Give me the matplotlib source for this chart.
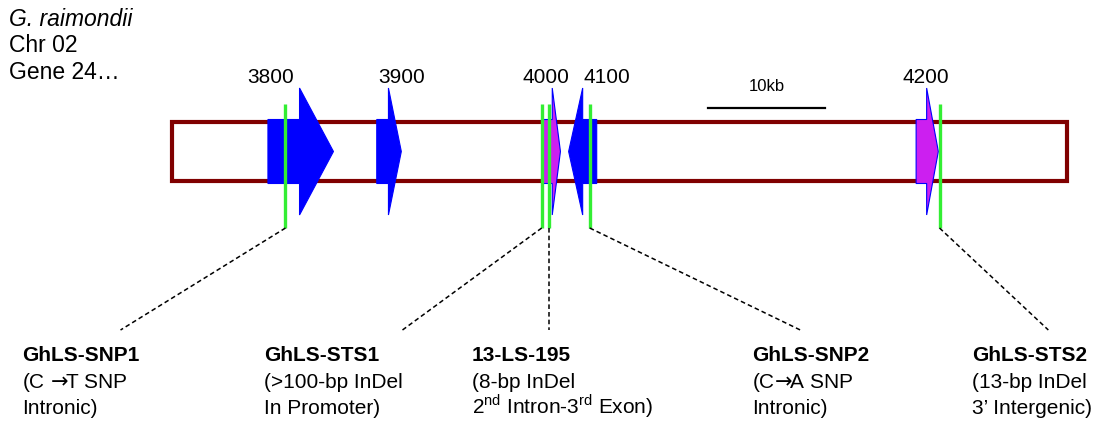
import matplotlib
matplotlib.use('Agg')
import matplotlib.pyplot as plt
from matplotlib.patches import Polygon, Rectangle

plt.rcParams['font.family'] = ['Liberation Sans', 'DejaVu Sans']

# positions along the segment in kb
segment_len = 76.5
gene_ids = ['3800', '3900', '4000', '4100', '4200']
gene_start = [8.2, 17.5, 31.7, 36.3, 63.6]   # back of the body
gene_head = [10.9, 18.5, 32.5, 35.1, 64.5]   # where the arrow head begins
gene_tip = [13.8, 19.6, 33.2, 33.9, 65.5]
gene_colors = ['#0000ff', '#0000ff', '#cc1ff0', '#0000ff', '#cc1ff0']
id_pos = [8.4, 19.6, 32.0, 37.2, 64.4]

marker_pos = [9.7, 31.6, 32.2, 35.7, 65.6]
label_anchor = [-4.4, 19.7, 32.2, 53.7, 74.9]
label_x = [-12.8, 7.9, 25.6, 49.6, 68.4]
marker_names = ['GhLS-SNP1', 'GhLS-STS1', '13-LS-195', 'GhLS-SNP2', 'GhLS-STS2']
marker_notes = [
    ['(C $\\!\\rightarrow\\!\\!$T SNP', 'Intronic)'],
    ['(>100-bp InDel', 'In Promoter)'],
    ['(8-bp InDel', '2$^{\\mathregular{nd}}$ Intron-3$^{\\mathregular{rd}}$ Exon)'],
    ['(C$\\!\\rightarrow\\!\\!$A SNP', 'Intronic)'],
    ['(13-bp InDel', '3\u2019 Intergenic)'],
]
scale_start, scale_kb = 45.8, 10
header = ['G. raimondii', 'Chr 02', 'Gene 24\u2026']

px_per_kb = 11.7
x0 = 172 / px_per_kb

fig = plt.figure(figsize=(11.09, 4.23), dpi=100)
ax = fig.add_axes([0, 0, 1, 1])
ax.set_xlim(-x0, 1109 / px_per_kb - x0)
ax.set_ylim(423, 0)
ax.axis('off')

yc = 151.5
body_h = 32
head_h = 63.5

# chromosome segment
ax.add_patch(Rectangle((0, 122), segment_len, 59.5, fill=False,
                       edgecolor='#800000', lw=3, zorder=1))

# genes as block arrows
for s, h, t, c in zip(gene_start, gene_head, gene_tip, gene_colors):
    pts = [(s, yc - body_h), (h, yc - body_h), (h, yc - head_h), (t, yc),
           (h, yc + head_h), (h, yc + body_h), (s, yc + body_h)]
    ax.add_patch(Polygon(pts, closed=True, facecolor=c, edgecolor='#0000ff',
                         lw=0.8, zorder=2))

for gid, x in zip(gene_ids, id_pos):
    ax.text(x, 83, gid, ha='center', va='baseline', fontsize=15)

# marker positions and leader lines
for m, a in zip(marker_pos, label_anchor):
    ax.plot([m, m], [104, 228], color='#33ee33', lw=2.4, zorder=3,
            solid_capstyle='butt')
    ax.plot([m, a], [228, 330], color='black', lw=1.1, ls=(0, (3, 2)), zorder=3)

for x, name, notes in zip(label_x, marker_names, marker_notes):
    ax.text(x, 361, name, fontsize=15, fontweight='bold', va='baseline')
    ax.text(x, 387.5, notes[0], fontsize=15, va='baseline')
    ax.text(x, 414, notes[1], fontsize=15, va='baseline')

# scale bar
ax.plot([scale_start, scale_start + scale_kb], [108, 108], color='black', lw=1.6)
ax.text(scale_start + scale_kb / 2, 91, '10kb', ha='center', va='baseline',
        fontsize=12)

for i, line in enumerate(header):
    ax.text(-x0 + 9 / px_per_kb, 25.5 + 26.7 * i, line, fontsize=16.5,
            va='baseline', style='italic' if i == 0 else 'normal')

fig.savefig('out.png', dpi=100)
